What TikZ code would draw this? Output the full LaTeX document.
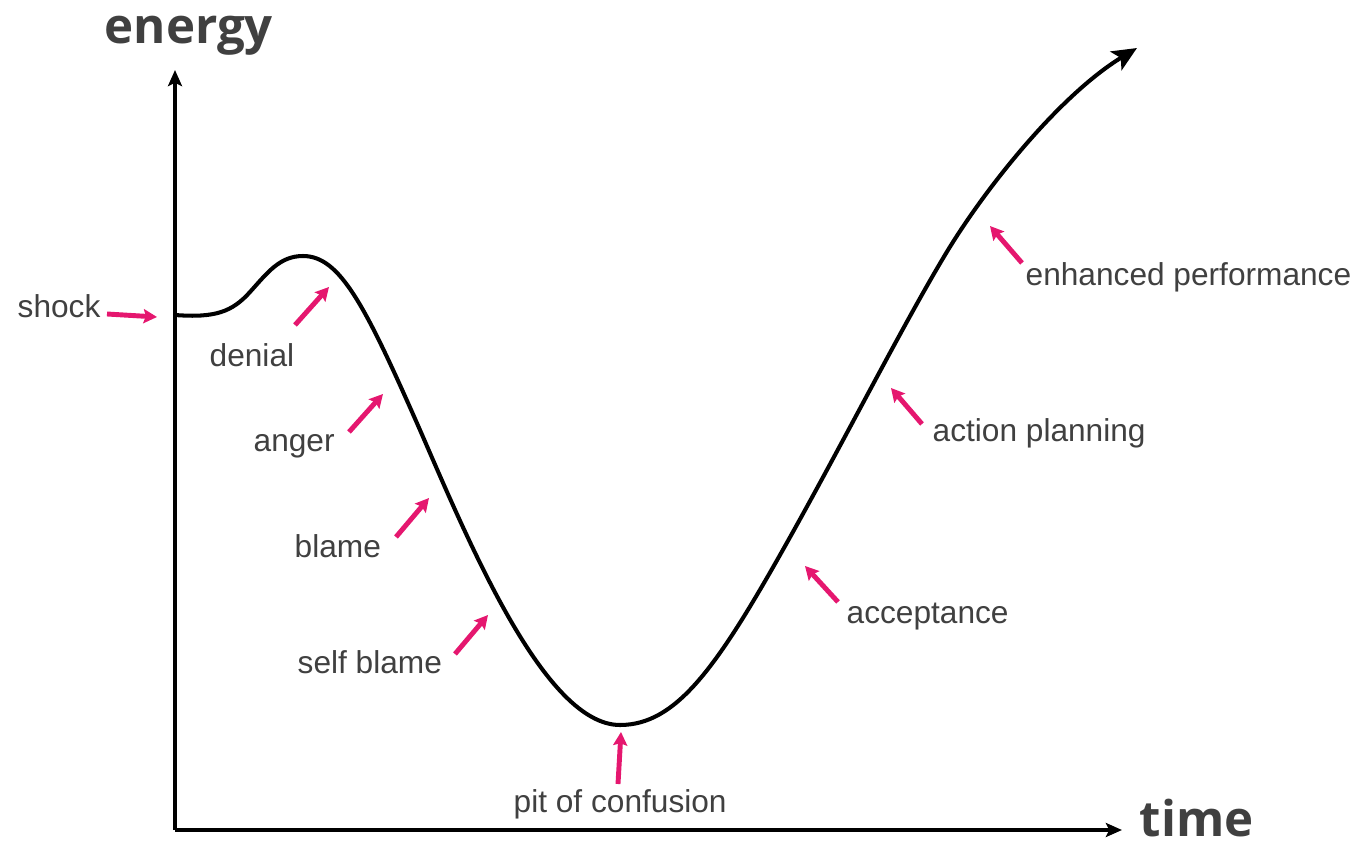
\documentclass[tikz,border=0pt]{standalone}
\usepackage{fontspec}
\setmainfont{Liberation Sans}
\newfontfamily\headfont{Open Sans}
\usetikzlibrary{arrows.meta}
\definecolor{labelgrey}{HTML}{404040}
\definecolor{cuepink}{HTML}{E5176F}
\tikzset{
  stagelabel/.style={font=\fontsize{9}{11}\selectfont,text=labelgrey,inner sep=0pt,anchor=base west},
  axislabel/.style={font=\headfont\bfseries\fontsize{14}{16}\selectfont,text=labelgrey,inner sep=0pt,anchor=base west},
  axisline/.style={draw=black,line width=0.9pt,-{Stealth[length=4.6pt,width=4pt,inset=1pt]}},
  changecurve/.style={draw=black,line width=1.15pt,line cap=round,-{Stealth[length=7pt,width=6.2pt,inset=1.6pt]}},
  cue/.style={draw=cuepink,line width=1.4pt,-{Stealth[length=3.8pt,width=4pt,inset=0.6pt]}},
}
\begin{document}
\begin{tikzpicture}[x=0.01cm,y=-0.01cm]
\useasboundingbox (0,0) rectangle (1359,845);

% axes
\coordinate (O) at (175,830);
\coordinate (Ytip) at (175,70);
\coordinate (Xtip) at (1122,830);
\draw[axisline] (O) -- (Ytip);
\draw[axisline] (O) -- (Xtip);
\node[axislabel] (energy) at (104,43) {energy};
\node[axislabel] (time) at (1139,836) {time};

% change curve
\draw[changecurve] (175,315)
  .. controls (215,318) and (232,312) .. (250,292)
  .. controls (268,272) and (280,256) .. (303,256)
  .. controls (340,256) and (365,305) .. (420,430)
  .. controls (470,545) and (545,725) .. (620,725)
  .. controls (675,725) and (715,670) .. (780,555)
  .. controls (840,449) and (900,330) .. (945,255)
  .. controls (985,188) and (1060,95) .. (1137,48);

% stage labels
\node[stagelabel] (shock) at (17,317) {shock};
\node[stagelabel] (denial) at (209,366) {denial};
\node[stagelabel] (anger) at (253,451) {anger};
\node[stagelabel] (blame) at (294,557) {blame};
\node[stagelabel] (selfblame) at (297,673) {self blame};
\node[stagelabel] (pit) at (513,812) {pit of confusion};
\node[stagelabel] (acceptance) at (846,623) {acceptance};
\node[stagelabel] (planning) at (932,441) {action planning};
\node[stagelabel] (enhanced) at (1025,285) {enhanced performance};

% pink pointers
\coordinate (shockA) at (107,314);      \coordinate (shockB) at (157,317);
\coordinate (denialA) at (295,325);     \coordinate (denialB) at (329,287);
\coordinate (angerA) at (349,432);      \coordinate (angerB) at (383,394);
\coordinate (blameA) at (396,537);      \coordinate (blameB) at (429,498);
\coordinate (selfblameA) at (455,654);  \coordinate (selfblameB) at (488,615);
\coordinate (pitA) at (618,784);        \coordinate (pitB) at (621,732);
\coordinate (acceptanceA) at (838,602); \coordinate (acceptanceB) at (805,566);
\coordinate (planningA) at (922,424);   \coordinate (planningB) at (891,388);
\coordinate (enhancedA) at (1022,263);  \coordinate (enhancedB) at (990,226);
\draw[cue] (shockA) -- (shockB);
\draw[cue] (denialA) -- (denialB);
\draw[cue] (angerA) -- (angerB);
\draw[cue] (blameA) -- (blameB);
\draw[cue] (selfblameA) -- (selfblameB);
\draw[cue] (pitA) -- (pitB);
\draw[cue] (acceptanceA) -- (acceptanceB);
\draw[cue] (planningA) -- (planningB);
\draw[cue] (enhancedA) -- (enhancedB);
\end{tikzpicture}
\end{document}
